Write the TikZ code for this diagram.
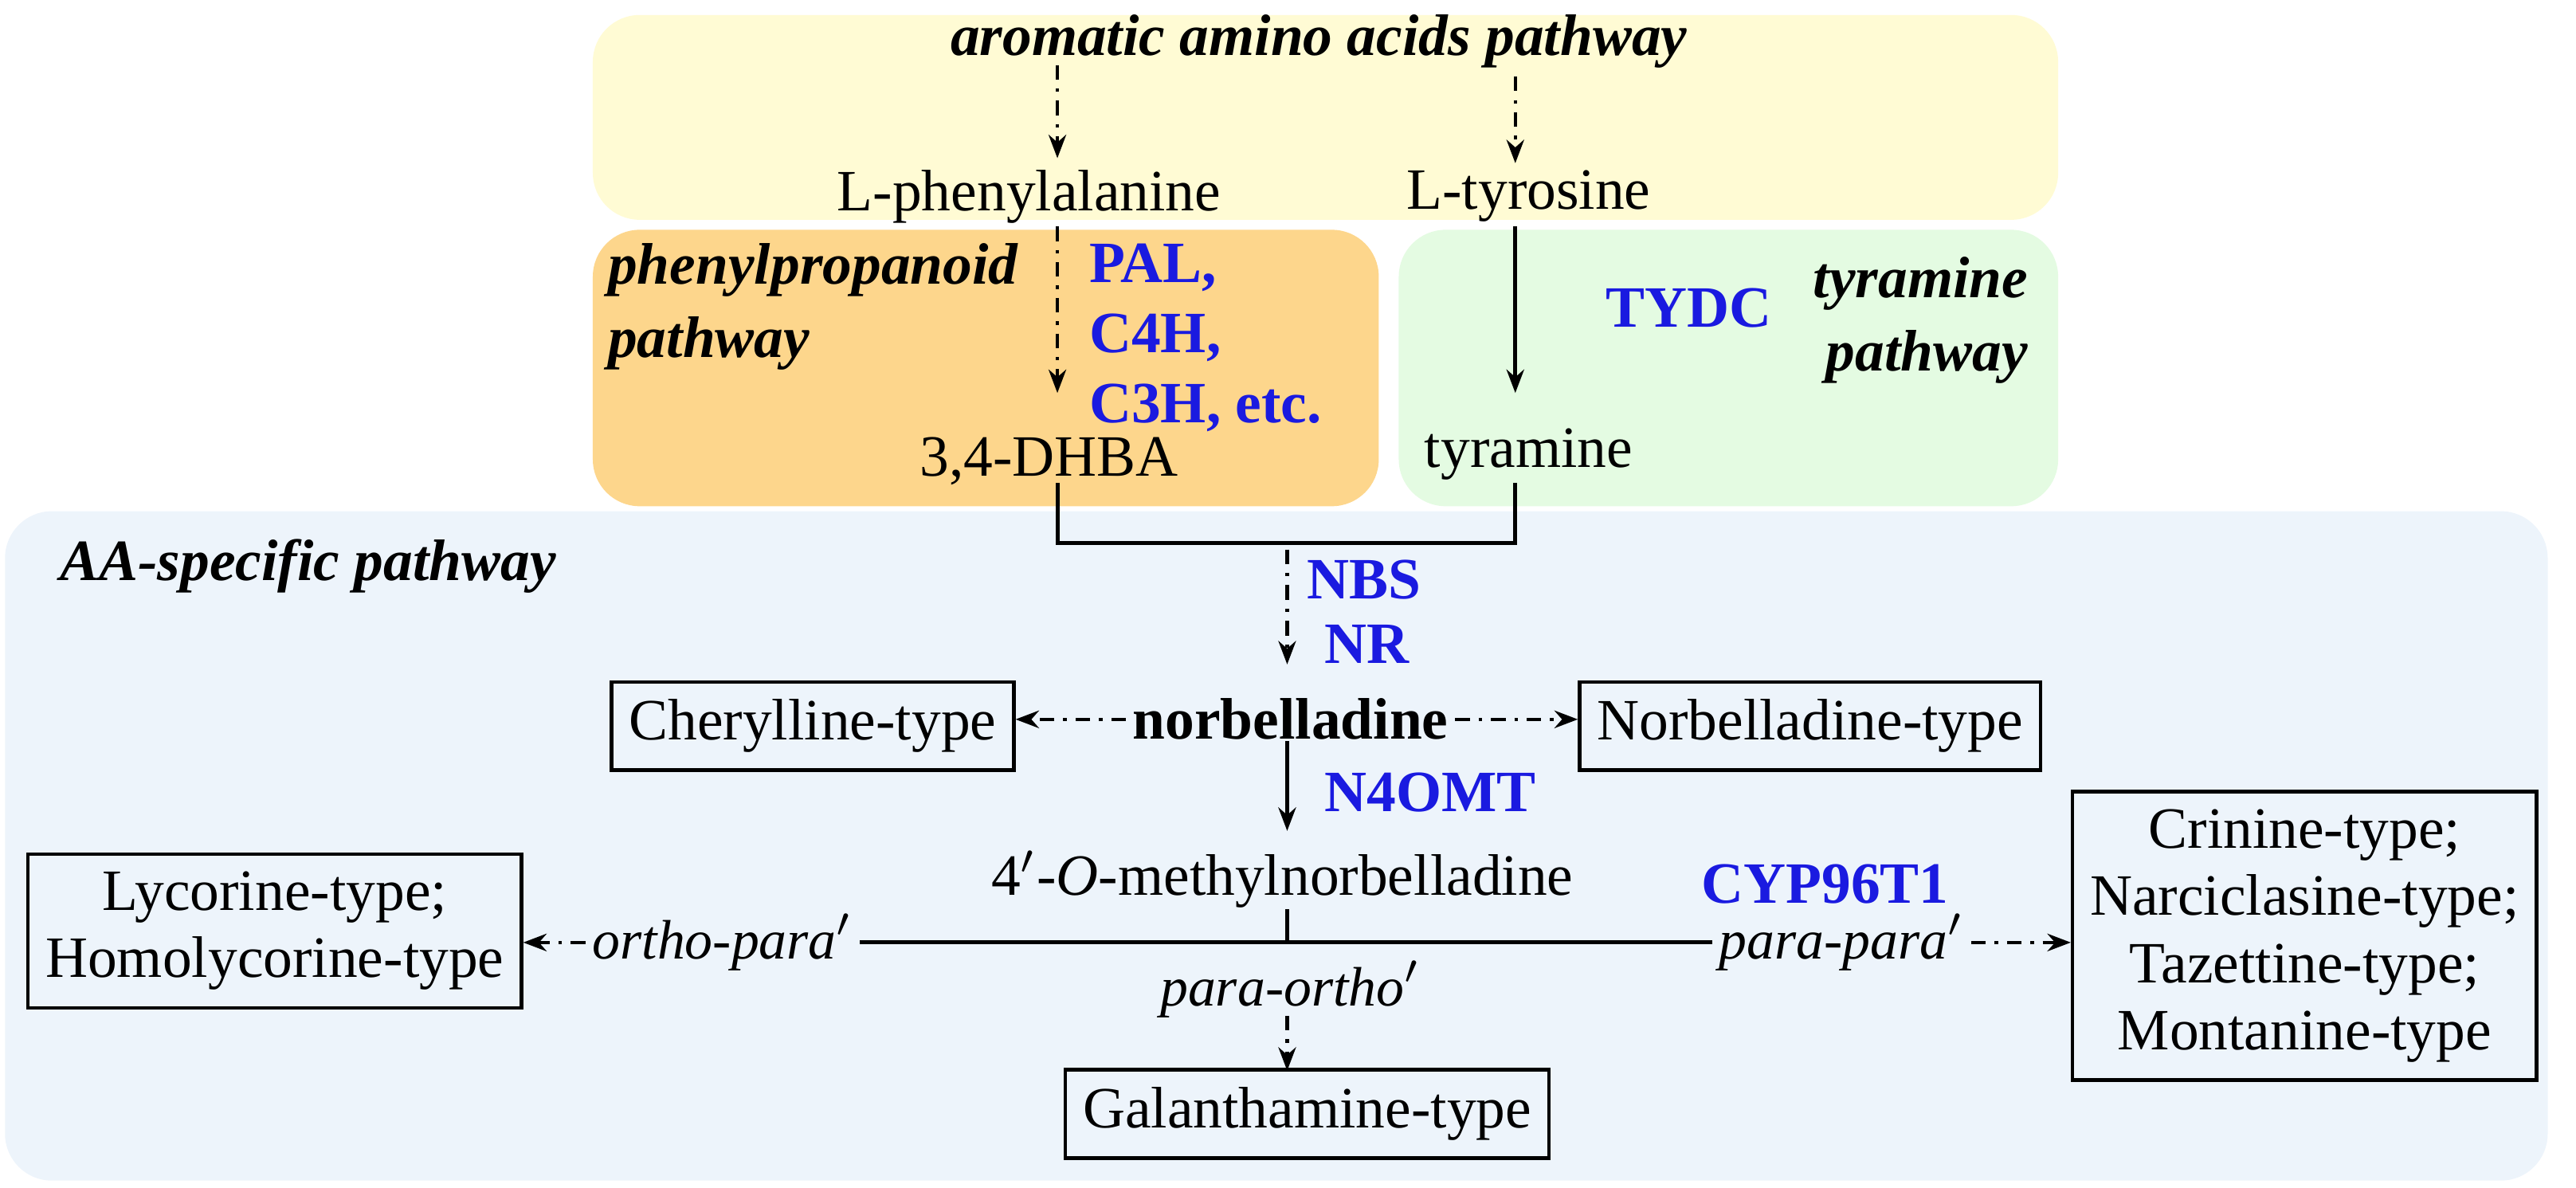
\documentclass[tikz,border=0pt]{standalone}
\usepackage{fontspec}
\setmainfont{Liberation Serif}
\usetikzlibrary{arrows.meta}
\definecolor{ylw}{HTML}{FFFBD4}
\definecolor{org}{HTML}{FDD68C}
\definecolor{grn}{HTML}{E4FBE2}
\definecolor{blu}{HTML}{EDF4FB}
\definecolor{enz}{HTML}{1A1AE0}
\tikzset{
 txt/.style={font=\fontsize{10}{11}\selectfont, inner sep=1pt},
 ttl/.style={font=\fontsize{10}{11.5}\selectfont\bfseries\itshape, inner sep=1pt},
 lab/.style={font=\fontsize{9.5}{11}\selectfont\itshape, inner sep=1pt},
 enzy/.style={font=\fontsize{10}{11}\selectfont\bfseries, text=enz, inner sep=1pt},
 tbox/.style={draw, line width=0.6pt, font=\fontsize{10}{11.5}\selectfont, inner sep=3pt, align=center},
 dd/.style={dash pattern=on 2.5pt off 1.5pt on 0.6pt off 1.5pt, line width=0.6pt, -{Stealth[length=4pt]}},
 so/.style={line width=0.7pt, -{Stealth[length=4pt]}},
 ln/.style={line width=0.7pt},
 area/.style={rounded corners=8pt}
}
\begin{document}
\begin{tikzpicture}
\useasboundingbox (0,0) rectangle (15.47,-7.13);
\fill[ylw,area] (3.56,-0.09) rectangle (12.36,-1.32);
\fill[org,area] (3.56,-1.38) rectangle (8.28,-3.04);
\fill[grn,area] (8.40,-1.38) rectangle (12.36,-3.04);
\fill[blu,area] (0.03,-3.07) rectangle (15.30,-7.09);

\node[ttl] (aa) at (7.92,-0.25) {aromatic amino acids pathway};
\node[txt] (phe) at (6.18,-1.18) {L-phenylalanine};
\node[txt] (tyr) at (9.18,-1.18) {L-tyrosine};
\coordinate (a1) at (6.35,-0.39);
\coordinate (a2) at (9.10,-0.46);
\draw[dd] (a1) -- (6.35,-0.95);
\draw[dd] (a2) -- (9.10,-0.98);

\node[ttl, anchor=north west, align=left] (pp) at (3.61,-1.42) {phenylpropanoid\\[1pt]pathway};
\node[enzy, anchor=north west, align=left] (pal) at (6.50,-1.42) {PAL,\\[1pt]C4H,\\[1pt]C3H, etc.};
\node[txt] (dhba) at (6.30,-2.77) {3,4-DHBA};
\draw[dd] (6.35,-1.36) -- (6.35,-2.36);

\node[enzy] (tydc) at (10.14,-1.85) {TYDC};
\node[ttl, anchor=north east, align=right] (tp) at (12.22,-1.50) {tyramine\\[1pt]pathway};
\node[txt] (tyra) at (9.18,-2.73) {tyramine};
\draw[so] (9.10,-1.36) -- (9.10,-2.36);

\node[ttl] (aas) at (1.85,-3.40) {AA-specific pathway};
\coordinate (j1) at (6.35,-2.90);
\coordinate (j2) at (9.10,-2.90);
\draw[ln] (j1) -- (6.35,-3.26) -- (9.10,-3.26) -- (j2);
\draw[dd] (7.73,-3.30) -- (7.73,-3.99);
\node[enzy] (nbs) at (8.19,-3.48) {NBS};
\node[enzy] (nr) at (8.21,-3.87) {NR};

\node[txt, font=\fontsize{10}{11}\selectfont\bfseries] (nor) at (7.75,-4.32) {norbelladine};
\node[tbox] (chy) at (4.88,-4.36) {Cherylline-type};
\node[tbox] (nty) at (10.87,-4.36) {Norbelladine-type};
\draw[dd] (nor.west) -- (chy.east |- nor.west);
\draw[dd] (nor.east) -- (nty.west |- nor.east);

\node[txt] (mno) at (7.70,-5.28) {4$'$-\textit{O}-methylnorbelladine};
\draw[so] (7.73,-4.45) -- (7.73,-4.99);
\node[enzy] (n4) at (8.59,-4.76) {N4OMT};
\node[enzy] (cyp) at (10.96,-5.31) {CYP96T1};

\node[lab] (op) at (4.34,-5.66) {ortho-para$'$};
\node[lab] (ppa) at (11.06,-5.66) {para-para$'$};
\node[lab] (po) at (7.75,-5.94) {para-ortho$'$};
\draw[ln] (op.east) -- (ppa.west);
\draw[ln] (7.73,-5.46) -- (7.73,-5.66);

\node[tbox] (lyc) at (1.65,-5.59) {Lycorine-type;\\Homolycorine-type};
\node[tbox] (cri) at (13.84,-5.62) {Crinine-type;\\Narciclasine-type;\\Tazettine-type;\\Montanine-type};
\node[tbox] (gal) at (7.85,-6.69) {Galanthamine-type};
\draw[dd] (op.west) -- (lyc.east |- op.west);
\draw[dd] (ppa.east) -- (cri.west |- ppa.east);
\draw[dd] (7.73,-6.10) -- (7.73,-6.43);
\end{tikzpicture}
\end{document}
